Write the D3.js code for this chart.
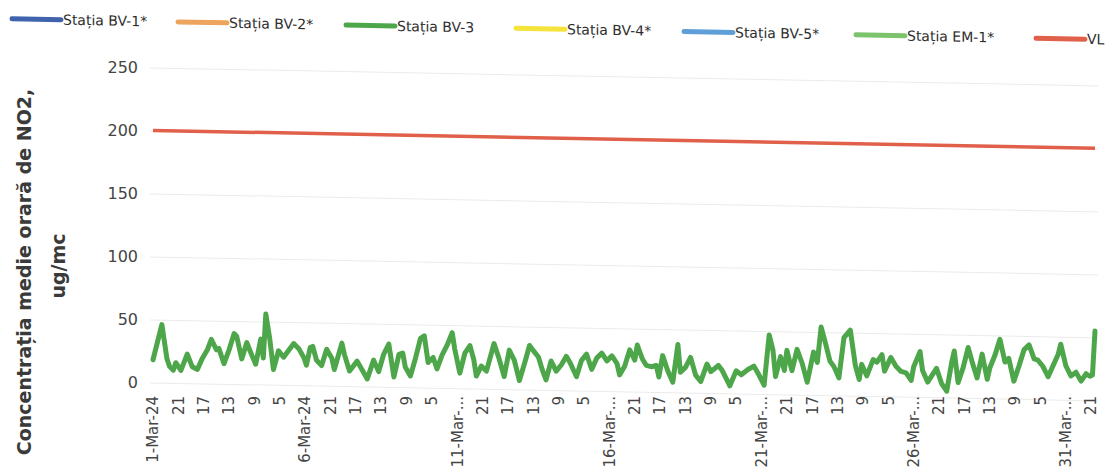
<!DOCTYPE html>
<html><head><meta charset="utf-8">
<script src="https://cdn.jsdelivr.net/npm/d3@7"></script>
<style>body{margin:0;background:#fff;} svg{display:block;}</style>
</head><body>
<svg id="c" width="1108" height="475"></svg>
<script>
// ---- data ----
const seriesNames = ["Stația BV-1*","Stația BV-2*","Stația BV-3","Stația BV-4*","Stația BV-5*","Stația EM-1*","VL"];
const seriesColors = ["#3f63ac","#eda55e","#4ea64a","#f5e33c","#5f9fd8","#7cc46c","#e0604a"];
// hourly NO2 readings for Stația BV-3 (hour index from 1-Mar-24 01:00), read at turning points
const bv3Hours = [0,7,11,13,16,18,22,27,31,35,39,43,46,50,52,56,60,64,66,70,74,78,81,85,87,89,92,95,99,103,
  111,115,119,121,124,126,129,133,137,141,143,149,151,155,161,165,169,174,178,182,186,190,194,197,199,203,207,211,214,217,
  221,224,228,232,236,238,242,246,250,253,255,259,263,269,273,277,281,285,289,294,297,300,304,307,310,314,318,322,326,329,
  334,338,342,346,350,354,358,362,366,368,372,376,380,382,386,389,393,397,399,402,406,410,414,416,420,424,428,432,437,440,
  446,449,455,460,464,469,474,478,482,486,489,491,495,498,500,504,508,512,516,521,524,527,530,534,537,541,545,550,554,557,
  559,563,568,571,575,577,582,586,590,594,598,600,605,607,611,618,622,626,630,632,635,639,643,646,650,654,658,660,664,668,
  672,675,679,683,687,691,695,698,702,706,710,714,716,720,724,728,732,736,739,741,743];
const bv3Values = [18,46,19,13,10,16,10,23,13,11,20,27,35,27,28,16,27,40,38,20,33,23,16,36,21,56,37,12,27,22,
  33,29,22,16,30,31,20,16,29,22,13,34,25,12,20,13,6,21,12,26,34,8,26,27,16,9,23,39,41,20,
  24,15,26,34,44,31,12,28,34,23,10,18,14,36,24,10,31,23,7,24,35,31,26,16,8,23,15,20,27,22,
  11,24,29,17,26,30,24,28,22,13,20,33,25,37,26,21,20,21,12,29,17,8,38,16,20,28,14,9,23,17,
  22,18,6,18,15,19,22,15,7,47,35,14,30,19,35,19,36,25,10,34,26,54,43,27,23,14,46,52,24,13,
  25,16,29,27,33,20,31,24,20,19,13,24,36,21,12,23,11,5,28,37,12,24,40,29,16,35,15,24,34,47,
  29,32,14,26,39,43,32,31,26,18,27,36,44,27,19,22,15,21,19,20,55];
const vlHours = [0, 743];
const vlValues = [200, 200];
const yTicks = [0, 50, 100, 150, 200, 250];
const xTickHours = [0,20,40,60,80,100,120,140,160,180,200,220,240,260,280,300,320,340,360,380,400,420,440,460,480,500,520,540,560,580,600,620,640,660,680,700,720,740];
const xTickLabels = ["1-Mar-24","21","17","13","9","5","6-Mar-24","21","17","13","9","5","11-Mar-...","21","17","13","9","5",
  "16-Mar-...","21","17","13","9","5","21-Mar-...","21","17","13","9","5","26-Mar-...","21","17","13","9","5","31-Mar-...","21"];
const yTitle1 = "Concentrația medie orară de NO2,";
const yTitle2 = "ug/mc";

// ---- layout ----
const legendX = [12, 178, 346, 516, 684, 856, 1036];
const skew = 0.019; // scan tilt of the original page
const svg = d3.select("#c");
const x = d3.scaleLinear().domain([0, 743]).range([153, 1095]);
const y = d3.scaleLinear().domain([0, 250]).range([382, 67]);

const tilt = svg.append("g").attr("transform", `matrix(1,${skew},0,1,0,${-130*skew})`);

// gridlines
tilt.append("g").attr("transform", "translate(150,0)")
  .call(d3.axisLeft(y).tickValues(yTicks).tickSize(-948).tickFormat(""))
  .call(g => g.select(".domain").remove())
  .call(g => g.selectAll("line").attr("stroke", "#ebebeb").attr("stroke-width", 1));

// y tick labels
svg.append("g").attr("transform", "translate(150,0)")
  .call(d3.axisLeft(y).tickValues(yTicks).tickSize(0).tickPadding(12))
  .call(g => g.select(".domain").remove())
  .call(g => g.selectAll("text").attr("font-family", "DejaVu Sans").attr("font-size", 16).attr("fill", "#454545"));

// x tick labels
svg.append("g").selectAll("text").data(xTickHours).join("text")
  .attr("transform", (d) => `translate(${x(d)},396) rotate(-90)`)
  .attr("text-anchor", "end").attr("dy", "0.35em")
  .attr("font-family", "DejaVu Sans").attr("font-size", 15).attr("fill", "#454545")
  .text((d, i) => xTickLabels[i]);

// y title
const t = svg.append("g").attr("font-family", "DejaVu Sans").attr("font-weight", "bold")
  .attr("font-size", 19).attr("fill", "#3a3a3a").attr("text-anchor", "middle");
t.append("text").attr("transform", "translate(24,272) rotate(-90)").attr("dy", "0.35em").text(yTitle1);
t.append("text").attr("transform", "translate(58,266) rotate(-90)").attr("dy", "0.35em").text(yTitle2);

// series lines
const line = d3.line().x(d => x(d[0])).y(d => y(d[1])).curve(d3.curveLinear);
tilt.append("path").datum(vlHours.map((h, i) => [h, vlValues[i]]))
  .attr("d", line).attr("fill", "none").attr("stroke", seriesColors[6]).attr("stroke-width", 3.5);
tilt.append("path").datum(bv3Hours.map((h, i) => [h, bv3Values[i]]))
  .attr("d", line).attr("fill", "none").attr("stroke", seriesColors[2]).attr("stroke-width", 5)
  .attr("stroke-linejoin", "round").attr("stroke-linecap", "round");

// legend
const lg = tilt.append("g").selectAll("g").data(seriesNames).join("g")
  .attr("transform", (d, i) => `translate(${legendX[i]},21)`);
lg.append("line").attr("x1", 0).attr("x2", 49).attr("y1", 0).attr("y2", 0)
  .attr("stroke", (d, i) => seriesColors[i]).attr("stroke-width", 5).attr("stroke-linecap", "round");
lg.append("text").attr("x", 51).attr("dy", "0.35em").attr("font-family", "DejaVu Sans")
  .attr("font-size", 14).attr("fill", "#2e2e2e").text(d => d);
</script>
</body></html>
